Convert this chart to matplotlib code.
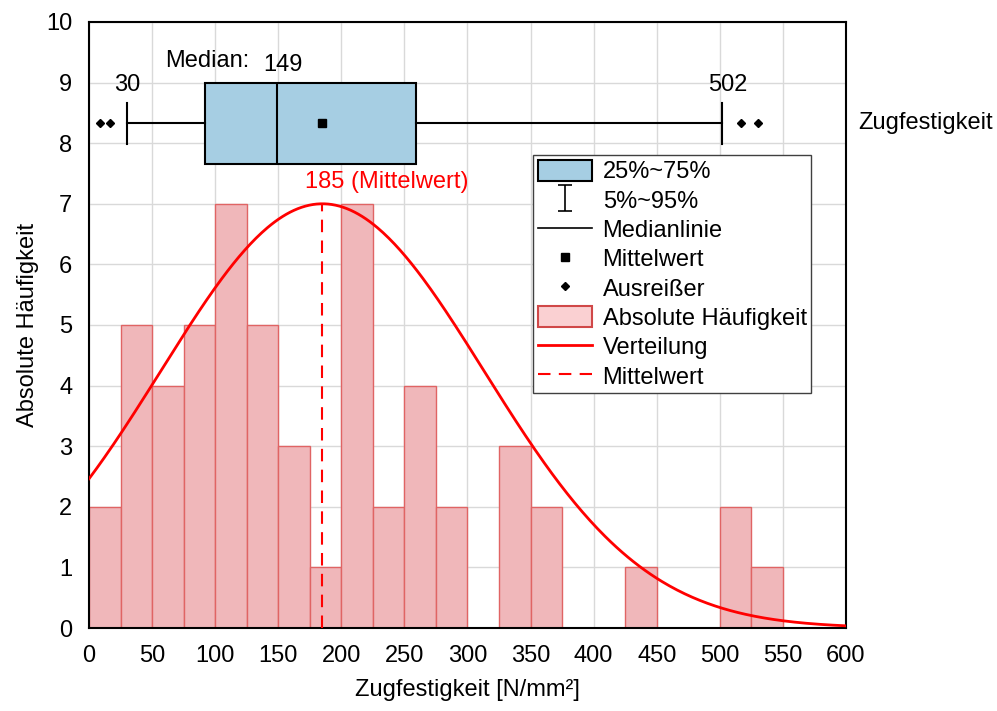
import matplotlib
matplotlib.use("Agg")
import matplotlib.pyplot as plt
import numpy as np
from matplotlib.lines import Line2D
from matplotlib.patches import Patch
from matplotlib.path import Path

plt.rcParams["font.family"] = ["Liberation Sans", "DejaVu Sans"]

FS = 17

# =========================
# DATA
# =========================

BIN_WIDTH = 25
bin_left = np.arange(0, 550, BIN_WIDTH)
counts = [2, 5, 4, 5, 7, 5, 3, 1, 7, 2, 4, 2, 0, 3, 2, 0, 0, 1, 0, 0, 2, 1]

# box plot statistics
q1, median, q3 = 92, 149, 259
p5, p95 = 30, 502
mean = 185
outliers = [9, 17, 517, 530]

# fitted normal distribution (peak scaled to the tallest bar)
dist_sd = 128
dist_peak = 7

BOX_Y = 8.33

# =========================
# PLOT
# =========================

fig = plt.figure(figsize=(9.97, 7.11), dpi=100)
ax = fig.add_axes([0.0893, 0.1167, 0.7592, 0.8524])

ax.bar(bin_left, counts, width=BIN_WIDTH, align="edge",
       facecolor="#F0B7BA", edgecolor="#E06464", linewidth=1, zorder=2)

x = np.linspace(0, 600, 400)
y = dist_peak * np.exp(-(x - mean) ** 2 / (2 * dist_sd ** 2))
ax.plot(x, y, color="red", linewidth=2, zorder=3)

ax.plot([mean, mean], [0, dist_peak], color="red", linestyle=(0, (6, 4)),
        linewidth=1.5, zorder=3)
ax.text(mean - 14, 7.36, f"{mean} (Mittelwert)", color="red",
        fontsize=FS, ha="left", va="center")

# box plot
stats = [dict(med=median, q1=q1, q3=q3, whislo=p5, whishi=p95,
              mean=mean, fliers=outliers)]
ax.bxp(stats, positions=[BOX_Y], widths=1.34, capwidths=0.68,
       orientation="horizontal", patch_artist=True, showmeans=True,
       boxprops=dict(facecolor="#A6CEE3", edgecolor="black", linewidth=1.5),
       medianprops=dict(color="black", linewidth=1.5),
       whiskerprops=dict(color="black", linewidth=1.5),
       capprops=dict(color="black", linewidth=1.5),
       meanprops=dict(marker="s", markerfacecolor="black",
                      markeredgecolor="black", markersize=6),
       flierprops=dict(marker="D", markerfacecolor="black",
                       markeredgecolor="black", markersize=4),
       manage_ticks=False, zorder=4)

ax.text(p5, 8.96, f"{p5}", fontsize=FS, ha="center", va="center")
ax.text(p95 + 4, 8.96, f"{p95}", fontsize=FS, ha="center", va="center")
ax.text(60, 9.35, "Median:", fontsize=FS, ha="left", va="center")
ax.text(median + 5, 9.29, f"{median}", fontsize=FS, ha="center", va="center")
ax.text(1.0158, BOX_Y, "Zugfestigkeit", fontsize=FS, ha="left", va="center",
        transform=ax.get_yaxis_transform())

# =========================
# AXES
# =========================

ax.set_xlim(0, 600)
ax.set_ylim(0, 10)
ax.set_xticks(np.arange(0, 601, 50))
ax.set_yticks(np.arange(0, 11, 1))
ax.tick_params(length=0, labelsize=FS)
ax.tick_params(axis="x", pad=12)
ax.tick_params(axis="y", pad=12)
ax.grid(True, color="#D9D9D9", linewidth=1)
ax.set_axisbelow(True)
for s in ax.spines.values():
    s.set_linewidth(1.5)
    s.set_color("black")

ax.set_xlabel("Zugfestigkeit [N/mm²]", fontsize=FS, labelpad=9)
ax.set_ylabel("Absolute Häufigkeit", fontsize=FS, labelpad=5)

# =========================
# LEGEND
# =========================

ibeam = Path([(-0.5, 1), (0.5, 1), (0, 1), (0, -1), (-0.5, -1), (0.5, -1)],
             [Path.MOVETO, Path.LINETO, Path.MOVETO, Path.LINETO,
              Path.MOVETO, Path.LINETO])

handles = [
    Patch(facecolor="#A6CEE3", edgecolor="black", linewidth=1.5),
    Line2D([], [], linestyle="none", marker=ibeam, markersize=19,
           markeredgecolor="black", markeredgewidth=1.2),
    Line2D([], [], color="black", linewidth=1.2),
    Line2D([], [], linestyle="none", marker="s", color="black", markersize=6),
    Line2D([], [], linestyle="none", marker="D", color="black", markersize=4),
    Patch(facecolor="#FAD0D2", edgecolor="#D04848", linewidth=1.5),
    Line2D([], [], color="red", linewidth=2),
    Line2D([], [], color="red", linewidth=1.5, linestyle=(0, (6, 4))),
]
labels = ["25%~75%", "5%~95%", "Medianlinie", "Mittelwert", "Ausreißer",
          "Absolute Häufigkeit", "Verteilung", "Mittelwert"]

leg = ax.legend(handles, labels, loc="upper left",
                bbox_to_anchor=(0.5865, 0.7805), borderaxespad=0,
                fontsize=FS, frameon=True, fancybox=False, framealpha=1,
                edgecolor="#404040", handlelength=2.3, handleheight=1.0,
                handletextpad=0.45, labelspacing=0.24, borderpad=0.2)
leg.get_frame().set_linewidth(1)
leg.set_zorder(5)

fig.savefig("out.png", dpi=100)
